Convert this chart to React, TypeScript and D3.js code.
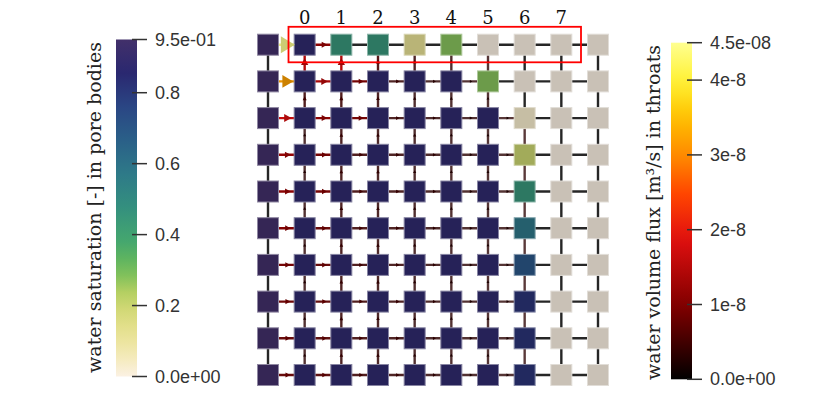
import * as d3 from "d3";

const W = 831;
const H = 412;

// pore columns 1..8 carry these labels
const columnLabels = ["0", "1", "2", "3", "4", "5", "6", "7"];

// water saturation [-] in pore bodies, row 0 = top, column 0 = inlet
const saturation = [
  [0.95, 0.88, 0.45, 0.45, 0.12, 0.28, 0, 0, 0, 0],
  [0.95, 0.88, 0.88, 0.88, 0.88, 0.88, 0.28, 0, 0, 0],
  [0.95, 0.88, 0.88, 0.88, 0.88, 0.88, 0.88, 0.03, 0, 0],
  [0.95, 0.88, 0.88, 0.88, 0.88, 0.88, 0.88, 0.2, 0, 0],
  [0.95, 0.88, 0.88, 0.88, 0.88, 0.88, 0.88, 0.45, 0, 0],
  [0.95, 0.88, 0.88, 0.88, 0.88, 0.88, 0.88, 0.58, 0, 0],
  [0.95, 0.88, 0.88, 0.88, 0.88, 0.88, 0.88, 0.7, 0, 0],
  [0.95, 0.88, 0.88, 0.88, 0.88, 0.88, 0.88, 0.82, 0, 0],
  [0.95, 0.88, 0.88, 0.88, 0.88, 0.88, 0.88, 0.82, 0, 0],
  [0.95, 0.88, 0.88, 0.88, 0.88, 0.88, 0.88, 0.82, 0, 0],
];

// water volume flux [m3/s] in horizontal throats (to the right), 10 rows x 9
const fluxH = [
  [4.5e-8, 1.2e-8, 0, 0, 0, 0, 0, 0, 0],
  [3.2e-8, 1.5e-8, 1.0e-8, 0.5e-8, 0.35e-8, 0.25e-8, 0, 0, 0],
  [1.8e-8, 1.2e-8, 1.0e-8, 0.5e-8, 0.4e-8, 0.3e-8, 0.2e-8, 0, 0],
  [1.3e-8, 1.0e-8, 0.6e-8, 0.5e-8, 0.4e-8, 0.3e-8, 0.25e-8, 0, 0],
  [1.2e-8, 1.0e-8, 0.6e-8, 0.5e-8, 0.4e-8, 0.3e-8, 0.25e-8, 0, 0],
  [1.1e-8, 0.9e-8, 0.6e-8, 0.5e-8, 0.4e-8, 0.3e-8, 0.25e-8, 0, 0],
  [1.0e-8, 0.9e-8, 0.6e-8, 0.5e-8, 0.4e-8, 0.3e-8, 0.25e-8, 0, 0],
  [0.95e-8, 0.85e-8, 0.6e-8, 0.5e-8, 0.4e-8, 0.3e-8, 0.25e-8, 0, 0],
  [0.9e-8, 0.8e-8, 0.6e-8, 0.5e-8, 0.4e-8, 0.3e-8, 0.25e-8, 0, 0],
  [0.9e-8, 0.8e-8, 0.6e-8, 0.5e-8, 0.4e-8, 0.3e-8, 0.25e-8, 0, 0],
];

// flux in vertical throats (upward), 9 gaps x 10 columns
const fluxV = [
  [0, 1.6e-8, 1.6e-8, 0.7e-8, 0.5e-8, 0.35e-8, 0.25e-8, 0, 0, 0],
  [0, 0.6e-8, 0.6e-8, 0.5e-8, 0.35e-8, 0.3e-8, 0.25e-8, 0, 0, 0],
  [0, 0.3e-8, 0.5e-8, 0.45e-8, 0.35e-8, 0.3e-8, 0.25e-8, 0.05e-8, 0, 0],
  [0, 0.3e-8, 0.5e-8, 0.45e-8, 0.35e-8, 0.3e-8, 0.25e-8, 0.05e-8, 0, 0],
  [0, 0.3e-8, 0.5e-8, 0.45e-8, 0.35e-8, 0.3e-8, 0.25e-8, 0.05e-8, 0, 0],
  [0, 0.3e-8, 0.5e-8, 0.45e-8, 0.35e-8, 0.3e-8, 0.25e-8, 0.05e-8, 0, 0],
  [0, 0.3e-8, 0.5e-8, 0.45e-8, 0.35e-8, 0.3e-8, 0.25e-8, 0.05e-8, 0, 0],
  [0, 0.3e-8, 0.5e-8, 0.45e-8, 0.35e-8, 0.3e-8, 0.25e-8, 0.05e-8, 0, 0],
  [0, 0.3e-8, 0.5e-8, 0.45e-8, 0.35e-8, 0.3e-8, 0.25e-8, 0.05e-8, 0, 0],
];

const satTicks = [0, 0.2, 0.4, 0.6, 0.8, 0.95];
const satTickLabels = ["0.0e+00", "0.2", "0.4", "0.6", "0.8", "9.5e-01"];
const fluxTicks = [0, 1e-8, 2e-8, 3e-8, 4e-8, 4.5e-8];
const fluxTickLabels = ["0.0e+00", "1e-8", "2e-8", "3e-8", "4e-8", "4.5e-08"];

// colormaps (position 0..1 -> colour)
const satStops: [number, string][] = [
  [0.0, "#fbf1e3"],
  [0.08, "#f1e7aa"],
  [0.18, "#dcdb7c"],
  [0.25, "#b4cf62"],
  [0.32, "#6dbb58"],
  [0.4, "#45a76e"],
  [0.5, "#34907e"],
  [0.6, "#2e7a88"],
  [0.7, "#2a6088"],
  [0.8, "#2a4684"],
  [0.9, "#2a2870"],
  [1.0, "#42306a"],
];
const fluxStops: [number, string][] = [
  [0.0, "#000000"],
  [0.22, "#820000"],
  [0.42, "#e21010"],
  [0.55, "#ff4500"],
  [0.66, "#ff8800"],
  [0.78, "#ffc200"],
  [0.88, "#fff030"],
  [1.0, "#ffff90"],
];

const satMax = 0.95;
const fluxMax = 4.5e-8;

const satColor = d3
  .scaleLinear<string>()
  .domain(satStops.map((s) => s[0] * satMax))
  .range(satStops.map((s) => s[1]))
  .interpolate(d3.interpolateRgb)
  .clamp(true);
const fluxColor = d3
  .scaleLinear<string>()
  .domain(fluxStops.map((s) => s[0] * fluxMax))
  .range(fluxStops.map((s) => s[1]))
  .interpolate(d3.interpolateRgb)
  .clamp(true);

const x = d3.scalePoint<number>().domain(d3.range(10)).range([268, 598]);
const y = d3.scalePoint<number>().domain(d3.range(10)).range([44.7, 375]);

const satY = d3.scaleLinear().domain([0, satMax]).range([376.5, 39.5]);
const fluxY = d3.scaleLinear().domain([0, fluxMax]).range([379.3, 42.7]);

const poreSize = 21;

// shaded like a lit 3D glyph
const shade = (c: string, k = 0.2) => d3.interpolateRgb(c, "#000")(k);

function throatColor(f: number) {
  if (f <= 0.02e-8) return "#262626";
  const t = f / fluxMax;
  return d3.interpolateRgb("#5a3a3a", shade(fluxColor(f), 0.08))(Math.max(0, Math.min(1, (t - 0.04) * 5)));
}

// arrow glyph pointing along +x, sized by flux
function arrowPath(f: number) {
  const t = f / fluxMax;
  const len = 1.5 + 12.5 * Math.pow(t, 0.85);
  const hw = 1 + 7.5 * t;
  return `M${-len / 2},${-hw}L${len / 2},0L${-len / 2},${hw}Z`;
}

type Throat = { x1: number; y1: number; x2: number; y2: number; f: number; angle: number };

const throats: Throat[] = [];
fluxH.forEach((row, r) =>
  row.forEach((f, c) =>
    throats.push({ x1: x(c)!, y1: y(r)!, x2: x(c + 1)!, y2: y(r)!, f, angle: 0 })
  )
);
fluxV.forEach((row, r) =>
  row.forEach((f, c) =>
    throats.push({ x1: x(c)!, y1: y(r + 1)!, x2: x(c)!, y2: y(r)!, f, angle: -90 })
  )
);

export default function App() {
  const gradSteps = d3.range(0, 1.0001, 0.05);
  return (
    <svg
      width={W}
      height={H}
      style={{ position: "absolute", left: 0, top: 0, background: "#fff" }}
    >
      <defs>
        <linearGradient id="satGrad" x1="0" y1="1" x2="0" y2="0">
          {gradSteps.map((p) => (
            <stop key={p} offset={p} stopColor={satColor(p * satMax)} />
          ))}
        </linearGradient>
        <linearGradient id="fluxGrad" x1="0" y1="1" x2="0" y2="0">
          {gradSteps.map((p) => (
            <stop key={p} offset={p} stopColor={fluxColor(p * fluxMax)} />
          ))}
        </linearGradient>
      </defs>

      {/* throats */}
      <g>
        {throats.map((t, i) => (
          <line
            key={i}
            x1={t.x1}
            y1={t.y1}
            x2={t.x2}
            y2={t.y2}
            stroke={throatColor(t.f)}
            strokeWidth={2.4}
          />
        ))}
      </g>

      {/* pore bodies */}
      <g>
        {saturation.map((row, r) =>
          row.map((s, c) => {
            const fill = shade(satColor(s));
            return (
              <rect
                key={`${r}-${c}`}
                x={x(c)! - poreSize / 2}
                y={y(r)! - poreSize / 2}
                width={poreSize}
                height={poreSize}
                fill={fill}
                stroke={d3.interpolateRgb(fill, "#fff")(0.45)}
                strokeWidth={1}
              />
            );
          })
        )}
      </g>

      {/* flux arrows */}
      <g>
        {throats
          .filter((t) => t.f > 0.15e-8)
          .map((t, i) => {
            const mx = (t.x1 + t.x2) / 2 + (t.angle === 0 ? 1.5 : 0);
            const my = (t.y1 + t.y2) / 2 - (t.angle === 0 ? 0 : 1.5);
            return (
              <path
                key={i}
                d={arrowPath(t.f)}
                transform={`translate(${mx},${my}) rotate(${t.angle})`}
                fill={shade(fluxColor(t.f), 0.2)}
              />
            );
          })}
      </g>

      {/* column labels */}
      <g fontFamily="DejaVu Serif" fontSize={18} fill="#111" textAnchor="middle">
        {columnLabels.map((l, i) => (
          <text key={l} x={x(i + 1)} y={23.5}>
            {l}
          </text>
        ))}
      </g>

      {/* highlight box */}
      <rect x={288.5} y={26.8} width={292.5} height={35.5} fill="none" stroke="#f00" strokeWidth={1.8} />

      {/* saturation colour bar */}
      <rect x={116} y={satY(satMax)} width={21} height={satY(0) - satY(satMax)} fill="url(#satGrad)" />
      <g fontFamily="Liberation Sans, Arial, sans-serif" fontSize={18} fill="#333">
        {satTicks.map((v, i) => (
          <g key={v} transform={`translate(0,${satY(v)})`}>
            <line x1={132} x2={147} stroke="#333" strokeWidth={1.5} />
            <text x={155} dominantBaseline="central">
              {satTickLabels[i]}
            </text>
          </g>
        ))}
      </g>
      <text
        transform="translate(100.5,207.5) rotate(-90)"
        textAnchor="middle"
        fontFamily="DejaVu Serif"
        fontSize={19}
        fill="#222"
      >
        water saturation [-] in pore bodies
      </text>

      {/* flux colour bar */}
      <rect x={671} y={fluxY(fluxMax)} width={21} height={fluxY(0) - fluxY(fluxMax)} fill="url(#fluxGrad)" />
      <g fontFamily="Liberation Sans, Arial, sans-serif" fontSize={18} fill="#333">
        {fluxTicks.map((v, i) => (
          <g key={v} transform={`translate(0,${fluxY(v)})`}>
            <line x1={687} x2={702} stroke="#333" strokeWidth={1.5} />
            <text x={710} dominantBaseline="central">
              {fluxTickLabels[i]}
            </text>
          </g>
        ))}
      </g>
      <text
        transform="translate(660,212.5) rotate(-90)"
        textAnchor="middle"
        fontFamily="DejaVu Serif"
        fontSize={19}
        fill="#222"
      >
        water volume flux [m³/s] in throats
      </text>
    </svg>
  );
}
